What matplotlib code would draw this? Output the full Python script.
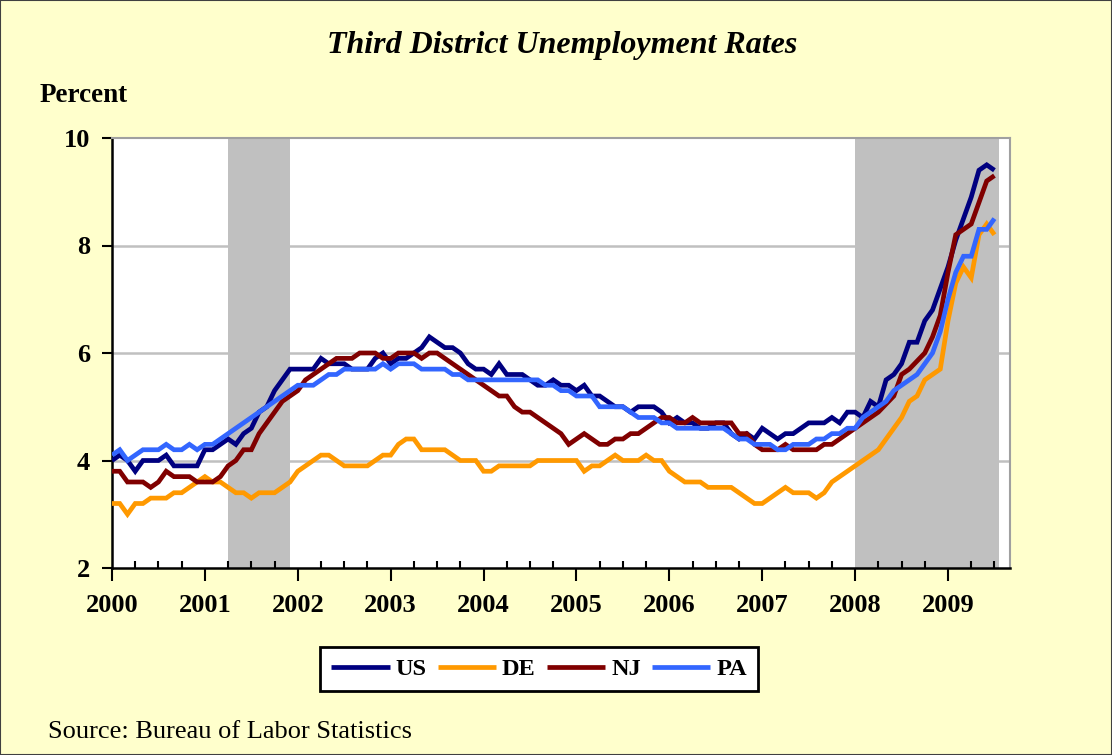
import numpy as np
import matplotlib
matplotlib.use("Agg")
import matplotlib.pyplot as plt
from matplotlib.patches import Rectangle

# -------------------------------------------------------
# Data: monthly unemployment rates, Jan 2000 - Jul 2009
# -------------------------------------------------------
us = [4.0, 4.1, 4.0, 3.8, 4.0, 4.0, 4.0, 4.1, 3.9, 3.9, 3.9, 3.9,
      4.2, 4.2, 4.3, 4.4, 4.3, 4.5, 4.6, 4.9, 5.0, 5.3, 5.5, 5.7,
      5.7, 5.7, 5.7, 5.9, 5.8, 5.8, 5.8, 5.7, 5.7, 5.7, 5.9, 6.0,
      5.8, 5.9, 5.9, 6.0, 6.1, 6.3, 6.2, 6.1, 6.1, 6.0, 5.8, 5.7,
      5.7, 5.6, 5.8, 5.6, 5.6, 5.6, 5.5, 5.4, 5.4, 5.5, 5.4, 5.4,
      5.3, 5.4, 5.2, 5.2, 5.1, 5.0, 5.0, 4.9, 5.0, 5.0, 5.0, 4.9,
      4.7, 4.8, 4.7, 4.7, 4.6, 4.6, 4.7, 4.7, 4.5, 4.4, 4.5, 4.4,
      4.6, 4.5, 4.4, 4.5, 4.5, 4.6, 4.7, 4.7, 4.7, 4.8, 4.7, 4.9,
      4.9, 4.8, 5.1, 5.0, 5.5, 5.6, 5.8, 6.2, 6.2, 6.6, 6.8, 7.2,
      7.6, 8.1, 8.5, 8.9, 9.4, 9.5, 9.4]

de = [3.2, 3.2, 3.0, 3.2, 3.2, 3.3, 3.3, 3.3, 3.4, 3.4, 3.5, 3.6,
      3.7, 3.6, 3.6, 3.5, 3.4, 3.4, 3.3, 3.4, 3.4, 3.4, 3.5, 3.6,
      3.8, 3.9, 4.0, 4.1, 4.1, 4.0, 3.9, 3.9, 3.9, 3.9, 4.0, 4.1,
      4.1, 4.3, 4.4, 4.4, 4.2, 4.2, 4.2, 4.2, 4.1, 4.0, 4.0, 4.0,
      3.8, 3.8, 3.9, 3.9, 3.9, 3.9, 3.9, 4.0, 4.0, 4.0, 4.0, 4.0,
      4.0, 3.8, 3.9, 3.9, 4.0, 4.1, 4.0, 4.0, 4.0, 4.1, 4.0, 4.0,
      3.8, 3.7, 3.6, 3.6, 3.6, 3.5, 3.5, 3.5, 3.5, 3.4, 3.3, 3.2,
      3.2, 3.3, 3.4, 3.5, 3.4, 3.4, 3.4, 3.3, 3.4, 3.6, 3.7, 3.8,
      3.9, 4.0, 4.1, 4.2, 4.4, 4.6, 4.8, 5.1, 5.2, 5.5, 5.6, 5.7,
      6.6, 7.3, 7.6, 7.4, 8.2, 8.4, 8.2]

nj = [3.8, 3.8, 3.6, 3.6, 3.6, 3.5, 3.6, 3.8, 3.7, 3.7, 3.7, 3.6,
      3.6, 3.6, 3.7, 3.9, 4.0, 4.2, 4.2, 4.5, 4.7, 4.9, 5.1, 5.2,
      5.3, 5.5, 5.6, 5.7, 5.8, 5.9, 5.9, 5.9, 6.0, 6.0, 6.0, 5.9,
      5.9, 6.0, 6.0, 6.0, 5.9, 6.0, 6.0, 5.9, 5.8, 5.7, 5.6, 5.5,
      5.4, 5.3, 5.2, 5.2, 5.0, 4.9, 4.9, 4.8, 4.7, 4.6, 4.5, 4.3,
      4.4, 4.5, 4.4, 4.3, 4.3, 4.4, 4.4, 4.5, 4.5, 4.6, 4.7, 4.8,
      4.8, 4.7, 4.7, 4.8, 4.7, 4.7, 4.7, 4.7, 4.7, 4.5, 4.5, 4.3,
      4.2, 4.2, 4.2, 4.3, 4.2, 4.2, 4.2, 4.2, 4.3, 4.3, 4.4, 4.5,
      4.6, 4.7, 4.8, 4.9, 5.05, 5.2, 5.6, 5.7, 5.85, 6.0, 6.3, 6.7,
      7.5, 8.2, 8.3, 8.4, 8.8, 9.2, 9.3]

pa = [4.1, 4.2, 4.0, 4.1, 4.2, 4.2, 4.2, 4.3, 4.2, 4.2, 4.3, 4.2,
      4.3, 4.3, 4.4, 4.5, 4.6, 4.7, 4.8, 4.9, 5.0, 5.1, 5.2, 5.3,
      5.4, 5.4, 5.4, 5.5, 5.6, 5.6, 5.7, 5.7, 5.7, 5.7, 5.7, 5.8,
      5.7, 5.8, 5.8, 5.8, 5.7, 5.7, 5.7, 5.7, 5.6, 5.6, 5.5, 5.5,
      5.5, 5.5, 5.5, 5.5, 5.5, 5.5, 5.5, 5.5, 5.4, 5.4, 5.3, 5.3,
      5.2, 5.2, 5.2, 5.0, 5.0, 5.0, 5.0, 4.9, 4.8, 4.8, 4.8, 4.7,
      4.7, 4.6, 4.6, 4.6, 4.6, 4.6, 4.6, 4.6, 4.5, 4.4, 4.4, 4.3,
      4.3, 4.3, 4.2, 4.2, 4.3, 4.3, 4.3, 4.4, 4.4, 4.5, 4.5, 4.6,
      4.6, 4.8, 4.9, 5.0, 5.1, 5.3, 5.4, 5.5, 5.6, 5.8, 6.0, 6.4,
      7.0, 7.5, 7.8, 7.8, 8.3, 8.3, 8.5]

series_names = ["US", "DE", "NJ", "PA"]
series_colors = ["#000080", "#FF9900", "#800000", "#3366FF"]

# recession periods (fractional years)
recessions = [(2001.25, 2001.917), (2008.0, 2009.55)]

year_labels = [str(y) for y in range(2000, 2010)]

dates = 2000 + np.arange(len(us)) / 12.0

# -------------------------------------------------------
# Figure
# -------------------------------------------------------
plt.rcParams['font.family'] = ['Liberation Serif', 'DejaVu Serif']

bg = "#FFFFCC"
fig = plt.figure(figsize=(11.12, 7.55), dpi=100, facecolor=bg)
fig.patches.append(Rectangle((0, 0), 1, 1, transform=fig.transFigure,
                             fill=False, edgecolor="#404040", lw=1.5))

ax = fig.add_axes([112 / 1112, 1 - 568 / 755, 898 / 1112, 430 / 755])
ax.set_facecolor("white")

for start, end in recessions:
    ax.axvspan(start, end, color="#C0C0C0", lw=0, zorder=0.5)

for yv in [4, 6, 8]:
    ax.axhline(yv, color="#C0C0C0", lw=1.8, zorder=0.6)

for vals, name, col in zip([us, de, nj, pa], series_names, series_colors):
    ax.plot(dates, vals, color=col, lw=3.4, label=name, zorder=3,
            solid_joinstyle="miter", solid_capstyle="butt")

ax.set_xlim(2000, 2009.0 + (1010 - 948) / 92.9)
ax.set_ylim(2, 10)

ax.set_xticks([2000 + k for k in range(10)])
ax.set_xticklabels(year_labels, fontsize=19, fontweight="bold")
ax.set_xticks(np.arange(2000, 2009.7, 0.25), minor=True)
ax.set_yticks([2, 4, 6, 8, 10])
ax.set_yticklabels(["2", "4", "6", "8", "10"], fontsize=19, fontweight="bold")

ax.tick_params(axis="x", which="major", direction="out", length=9, width=1.5, pad=10)
ax.tick_params(axis="x", which="minor", direction="in", length=5, width=1.5)
ax.tick_params(axis="y", which="major", direction="out", length=7, width=1.5, pad=9)

for s in ["left", "bottom"]:
    ax.spines[s].set_color("black")
    ax.spines[s].set_linewidth(1.8)
for s in ["top", "right"]:
    ax.spines[s].set_color("#A0A0A0")
    ax.spines[s].set_linewidth(1.5)

fig.text(0.506, 1 - 46 / 755, "Third District Unemployment Rates",
         ha="center", va="center", fontsize=23, fontweight="bold", style="italic")
fig.text(40 / 1112, 1 - 95 / 755, "Percent", ha="left", va="center",
         fontsize=19.5, fontweight="bold")
fig.text(48 / 1112, 1 - 732 / 755, "Source: Bureau of Labor Statistics",
         ha="left", va="center", fontsize=19)

leg = ax.legend(loc="center", bbox_to_anchor=(539 / 1112, 1 - 669 / 755),
                bbox_transform=fig.transFigure, ncol=4, frameon=True,
                fancybox=False, edgecolor="black", framealpha=1,
                handlelength=2.4, handletextpad=0.25, columnspacing=0.45,
                borderpad=0.45, prop={"weight": "bold", "size": 17.5})
leg.get_frame().set_linewidth(2)

fig.savefig("out.png", dpi=100, facecolor=bg)
